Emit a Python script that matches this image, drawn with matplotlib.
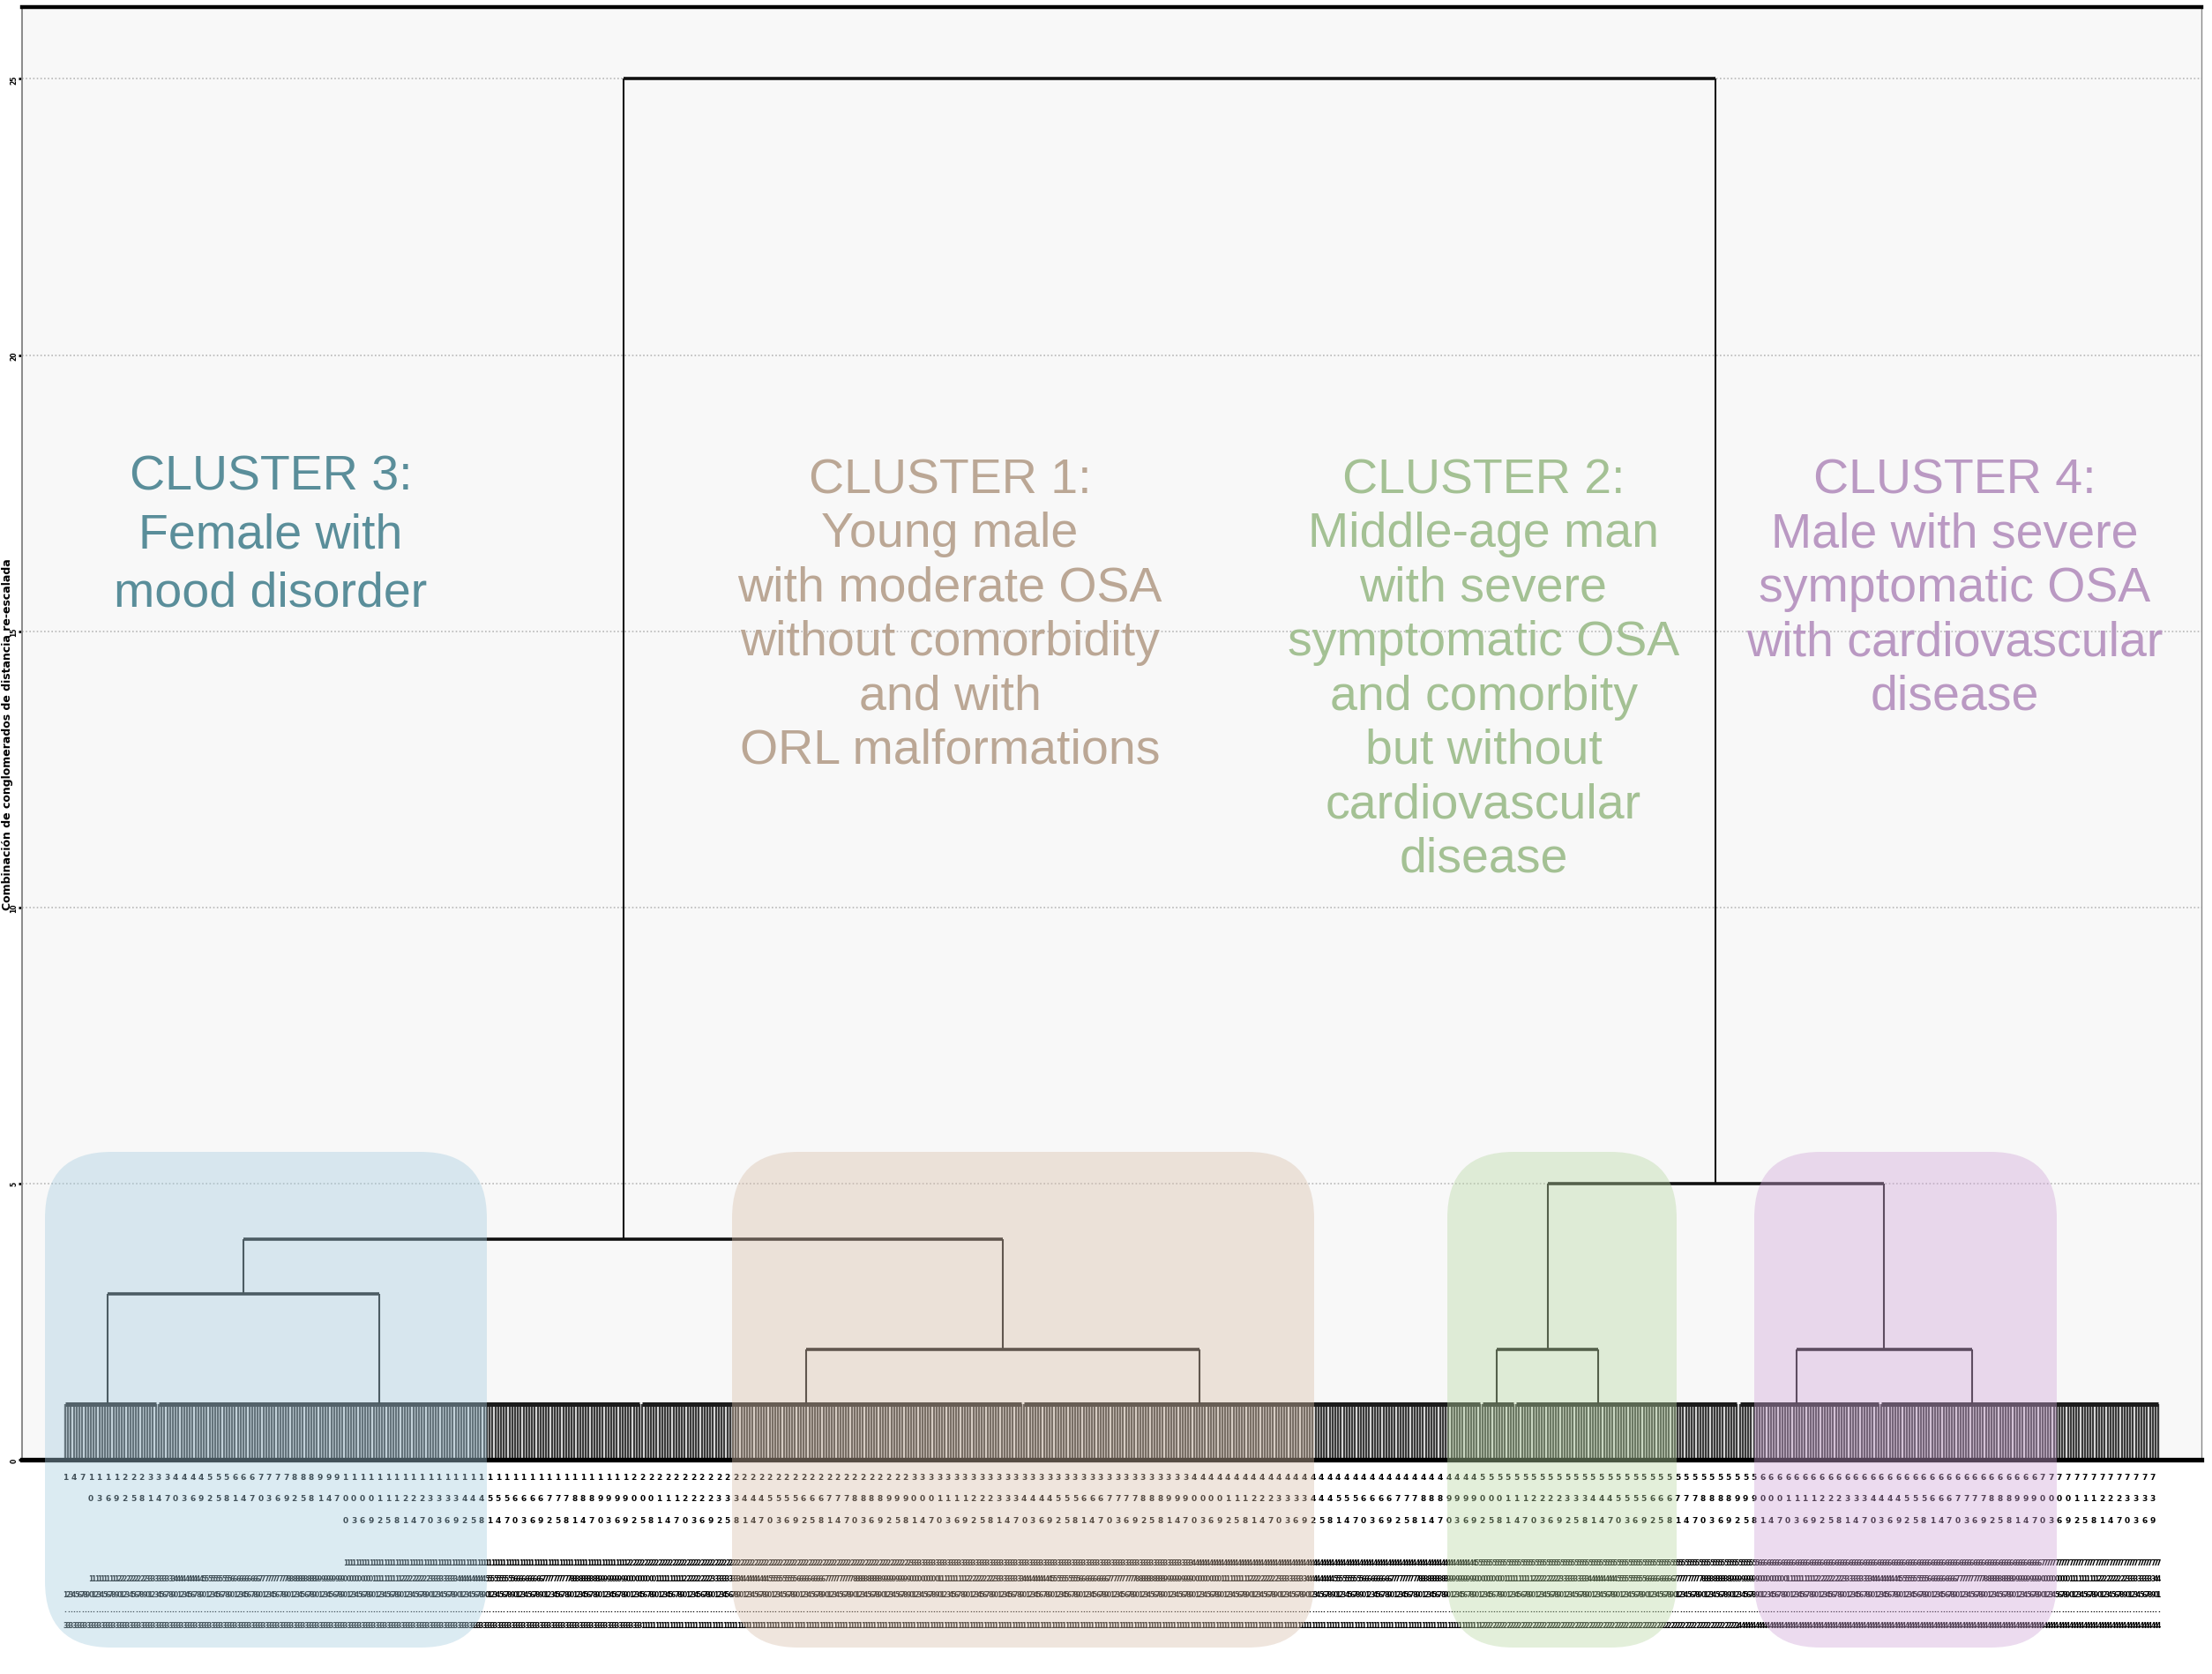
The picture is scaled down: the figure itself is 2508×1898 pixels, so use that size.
import matplotlib
matplotlib.use("Agg")
import matplotlib.pyplot as plt
from matplotlib.patches import FancyBboxPatch

# SPSS-style dendrogram, rescaled distance 0-25
# leaf groups that fuse near distance 1, left to right
GROUP_SIZES = [33, 171, 135, 162, 12, 79, 50, 99]
GROUP_JOIN_LEAF = [15, 78, 58, 62, 5, 29, 20, 32]
GROUP_HEIGHTS = [1.0, 1.0, 1.0, 1.0, 1.0, 1.0, 1.0, 1.0]
GROUP_CLUSTER = [3, 3, 1, 1, 2, 2, 4, 4]

# upper merges: node ids 0-7 are the groups, new nodes get 8, 9, ...
MERGE_LEFT = [0, 2, 4, 6, 8, 10, 12]
MERGE_RIGHT = [1, 3, 5, 7, 9, 11, 13]
MERGE_HEIGHT = [3.0, 2.0, 2.0, 2.0, 4.0, 5.0, 25.0]

Y_TICKS = [0, 5, 10, 15, 20, 25]
Y_LABEL = "Combinación de conglomerados de distancia re-escalada"

CLUSTER_LINES = [
    ["CLUSTER 3:", "Female with", "mood disorder"],
    ["CLUSTER 1:", "Young male", "with moderate OSA", "without comorbidity",
     "and with", "ORL malformations"],
    ["CLUSTER 2:", "Middle-age man", "with severe", "symptomatic OSA",
     "and comorbity", "but without", "cardiovascular", "disease"],
    ["CLUSTER 4:", "Male with severe", "symptomatic OSA",
     "with cardiovascular", "disease"],
]
TEXT_COLORS = ["#5a8e9a", "#bba795", "#a4c194", "#ba99c3"]
BOX_COLORS = ["#a6cde0", "#d9bfaa", "#b9d8a4", "#d0a6d8"]

W, H = 2508, 1899
fig = plt.figure(figsize=(W / 100, H / 100), dpi=100)
fig.patch.set_facecolor("white")

ax = fig.add_axes([25 / W, (H - 1656) / H, (2496 - 25) / W, (1656 - 9) / H])
ax.set_facecolor("#f8f8f8")

# leaf positions
starts = []
pos = 0
for n in GROUP_SIZES:
    starts.append(pos)
    pos += n
n_leaves = pos
ends = [s + n - 1 for s, n in zip(starts, GROUP_SIZES)]

# dense leaf links up to the group fusion level
for s, e, h in zip(starts, ends, GROUP_HEIGHTS):
    ax.vlines(list(range(s, e + 1)), 0, h, color="#3a3a3a", lw=1.7, zorder=2)
    ax.hlines(h, s, e, color="#1c1c1c", lw=3.6, zorder=3)

node_x = [s + j for s, j in zip(starts, GROUP_JOIN_LEAF)]
node_h = list(GROUP_HEIGHTS)
for l, r, h in zip(MERGE_LEFT, MERGE_RIGHT, MERGE_HEIGHT):
    ax.vlines([node_x[l], node_x[r]], [node_h[l], node_h[r]], h, color="#111111", lw=1.5, zorder=3)
    ax.hlines(h, node_x[l], node_x[r], color="#111111", lw=2.6, zorder=3)
    node_x.append((node_x[l] + node_x[r]) / 2)
    node_h.append(h)

ax.set_xlim(-15.3, 755.2)
ax.set_ylim(0, 26.3)
ax.set_xticks([])
ax.set_yticks(Y_TICKS, [str(v) for v in Y_TICKS], rotation=90, fontsize=5.5,
              fontweight="bold", va="center")
ax.tick_params(axis="y", length=3, width=2, pad=0.5, color="black")
ax.yaxis.grid(True, linestyle=(0, (1, 1.5)), color="#b8b8b8", lw=1.2)
ax.set_axisbelow(True)
ax.set_ylabel(Y_LABEL, fontsize=9, fontweight="bold", va="center")
ax.yaxis.set_label_coords(-0.0066, 0.5)

ax.spines["top"].set_linewidth(3.2)
ax.spines["top"].set_color("black")
ax.spines["bottom"].set_linewidth(3.8)
ax.spines["bottom"].set_color("black")
ax.spines["left"].set_color("#8a8a8a")
ax.spines["left"].set_linewidth(1.4)
ax.spines["right"].set_color("#8a8a8a")
ax.spines["right"].set_linewidth(1.0)

# leaf labels (case numbers), far too small to read, like the original
tr = ax.get_xaxis_transform()
leaf_cluster = []
for c, n in zip(GROUP_CLUSTER, GROUP_SIZES):
    leaf_cluster += [c] * n
for i in range(0, n_leaves, 3):
    ax.text(i, -0.009, "\n".join(str(i + 1)), transform=tr, ha="center", va="top",
            fontsize=6.5, fontweight="bold", linespacing=3.2, clip_on=False)
for i in range(n_leaves):
    code = f"{i + 1}.{leaf_cluster[i]}"
    ax.text(i, -0.1166, "\n".join(code), transform=tr, ha="center", va="bottom",
            fontsize=5.5, fontweight="bold", linespacing=2.25, clip_on=False)

# overlay in pixel units for the cluster highlights and captions
ov = fig.add_axes([0, 0, 1, 1], zorder=5)
ov.set_xlim(0, W)
ov.set_ylim(H, 0)
ov.set_axis_off()

box_x = [(51, 552), (830, 1490), (1641, 1901), (1989, 2332)]
for (x0, x1), col in zip(box_x, BOX_COLORS):
    ov.add_patch(FancyBboxPatch((x0, 1307), x1 - x0, 1869 - 1307,
                                boxstyle="round,pad=0,rounding_size=75",
                                facecolor=col, edgecolor="none", alpha=0.4))

text_x = [307, 1077, 1682, 2216]
first_y = [541, 545, 545, 545]
step_y = [66, 61.4, 61.4, 61.4]
for lines, col, x, y0, dy in zip(CLUSTER_LINES, TEXT_COLORS, text_x, first_y, step_y):
    for k, line in enumerate(lines):
        ov.text(x, y0 + k * dy, line, ha="center", va="center", color=col,
                fontsize=40, family=["Liberation Sans", "DejaVu Sans"])

fig.savefig("out.png", dpi=100, facecolor="white")
